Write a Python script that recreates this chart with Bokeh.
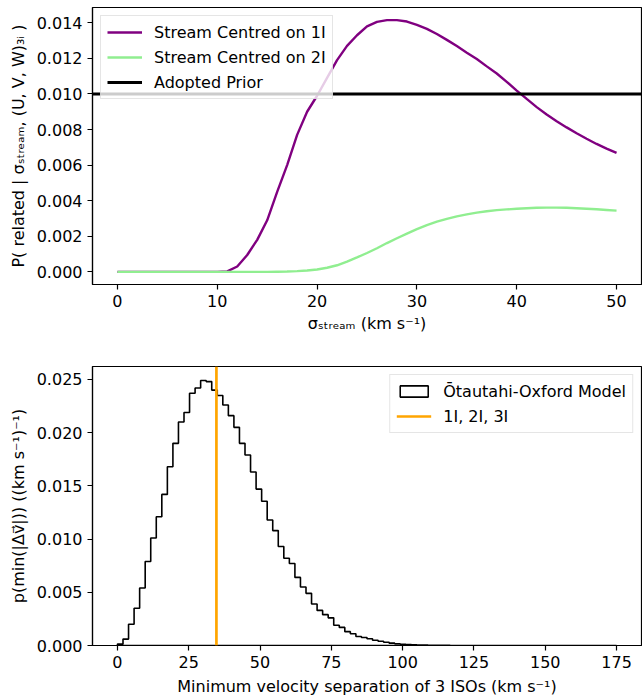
import numpy as np
from bokeh.plotting import figure
from bokeh.layouts import column
from bokeh.models import (Range1d, FixedTicker, PrintfTickFormatter, Span, Legend, LegendItem)
from bokeh.embed import file_html
from bokeh.resources import INLINE

# ---------------- data ----------------
sigma_stream = list(range(0, 51))
p_stream_1I = [0, 0, 0, 0, 0, 0, 0, 0, 0, 0, 0,
               0.00003, 0.0003, 0.00095, 0.0018, 0.0029, 0.0045, 0.0060, 0.0077, 0.0090, 0.0099,
               0.0109, 0.0119, 0.0127, 0.0133, 0.0138, 0.01405, 0.01415, 0.01415, 0.01407, 0.01388,
               0.01366, 0.01337, 0.01304, 0.01269, 0.01232, 0.01196, 0.01155, 0.01115, 0.01068, 0.01019,
               0.00972, 0.00926, 0.00885, 0.00847, 0.00812, 0.00779, 0.00748, 0.00719, 0.00693, 0.00669]
p_stream_2I = [0, 0, 0, 0, 0, 0, 0, 0, 0, 0, 0,
               0, 0, 0, 0, 0, 0.00001, 0.00002, 0.00004, 0.00008, 0.00013,
               0.00023, 0.00037, 0.00057, 0.00081, 0.00106, 0.00133, 0.00162, 0.00189, 0.00215, 0.00240,
               0.00263, 0.00282, 0.00298, 0.00312, 0.00323, 0.00333, 0.00341, 0.00347, 0.00351, 0.00355,
               0.00358, 0.00360, 0.00361, 0.00361, 0.00360, 0.00358, 0.00355, 0.00352, 0.00348, 0.00344]
adopted_prior = 0.010

hist_lo, hist_hi, hist_nbins = 0.0, 175.0, 90
hist_density = [0.00013, 0.0006, 0.0020, 0.0035, 0.0054, 0.0079, 0.0101, 0.0121, 0.0142, 0.0168,
                0.0190, 0.0210, 0.0219, 0.0237, 0.0242, 0.0249, 0.0248, 0.0240, 0.0235, 0.0226,
                0.0216, 0.0205, 0.0190, 0.0179, 0.0163, 0.0147, 0.01355, 0.0118, 0.0108, 0.0093,
                0.0082, 0.0077, 0.0064, 0.0055, 0.0049, 0.0039, 0.0033, 0.0029, 0.0026, 0.0019,
                0.0017, 0.0013, 0.0011, 0.00085, 0.00075, 0.00063, 0.0005, 0.0004, 0.0003, 0.00022,
                0.00016, 0.00012, 0.00009, 0.00007, 0.00005, 0.00004, 0.00003, 0.00002, 0.00001, 0.00001,
                0, 0, 0, 0, 0, 0, 0, 0, 0, 0,
                0, 0, 0, 0, 0, 0, 0, 0, 0, 0,
                0, 0, 0, 0, 0, 0, 0, 0, 0, 0]
observed_separation = 34.7

top_xticks = [0, 10, 20, 30, 40, 50]
top_yticks = [0.000, 0.002, 0.004, 0.006, 0.008, 0.010, 0.012, 0.014]
bot_xticks = [0, 25, 50, 75, 100, 125, 150, 175]
bot_yticks = [0.000, 0.005, 0.010, 0.015, 0.020, 0.025]

# ---------------- styling ----------------
FONT = "DejaVu Sans"
FS = "16px"
FRAME_W = 549
LEFT = 92


def style(p):
    p.outline_line_color = "black"
    p.outline_line_width = 1.2
    p.outline_line_alpha = 1.0
    p.grid.visible = False
    p.background_fill_color = "white"
    p.border_fill_color = "white"
    for ax in p.axis:
        ax.axis_line_color = "black"
        ax.axis_line_width = 1.2
        ax.major_tick_line_color = "black"
        ax.major_tick_line_width = 1.2
        ax.major_tick_out = 5
        ax.major_tick_in = 0
        ax.minor_tick_line_color = None
        ax.major_label_text_font = FONT
        ax.major_label_text_font_size = FS
        ax.major_label_text_color = "black"
        ax.major_label_standoff = 5
        ax.axis_label_text_font = FONT
        ax.axis_label_text_font_size = FS
        ax.axis_label_text_font_style = "normal"
        ax.axis_label_text_color = "black"
        ax.axis_label_standoff = 6


def style_legend(leg, glyph_h=20):
    leg.label_text_font = FONT
    leg.label_text_font_size = FS
    leg.label_text_color = "black"
    leg.glyph_width = 35
    leg.glyph_height = glyph_h
    leg.label_height = 20
    leg.spacing = 5
    leg.padding = 6
    leg.margin = 8
    leg.label_standoff = 12
    leg.border_line_color = "#cccccc"
    leg.border_line_width = 1
    leg.background_fill_color = "white"
    leg.background_fill_alpha = 0.8


# ---------------- top panel ----------------
x1 = Range1d(-2.5, 52.5)
y1 = Range1d(-0.00071, 0.01486)
p1 = figure(frame_width=FRAME_W, frame_height=277, x_range=x1, y_range=y1,
            output_backend="svg", toolbar_location=None,
            min_border_left=LEFT, min_border_right=1, min_border_top=7, min_border_bottom=50)
style(p1)
p1.xaxis.axis_label_standoff = 4
r1 = p1.line(sigma_stream, p_stream_1I, line_color="#800080", line_width=2.4)
r2 = p1.line(sigma_stream, p_stream_2I, line_color="#90EE90", line_width=2.4)
p1.add_layout(Span(location=adopted_prior, dimension="width", line_color="black", line_width=3))
r3 = p1.line([sigma_stream[0]], [adopted_prior], line_color="black", line_width=3)
p1.xaxis.ticker = FixedTicker(ticks=top_xticks)
p1.yaxis.ticker = FixedTicker(ticks=top_yticks)
p1.yaxis.formatter = PrintfTickFormatter(format="%.3f")
p1.xaxis.axis_label = "σₛₜᵣₑₐₘ (km s⁻¹)"
p1.yaxis.axis_label = "P( related | σₛₜᵣₑₐₘ, (U, V, W)₃ᵢ )"
leg1 = Legend(items=[LegendItem(label="Stream Centred on 1I", renderers=[r1]),
                     LegendItem(label="Stream Centred on 2I", renderers=[r2]),
                     LegendItem(label="Adopted Prior", renderers=[r3])],
              location="top_left")
style_legend(leg1)
p1.add_layout(leg1)

# ---------------- bottom panel ----------------
x2 = Range1d(-8.75, 183.75)
y2 = Range1d(0, 0.02622)
p2 = figure(frame_width=FRAME_W, frame_height=279, x_range=x2, y_range=y2,
            output_backend="svg", toolbar_location=None,
            min_border_left=LEFT, min_border_right=1, min_border_top=31, min_border_bottom=50)
style(p2)
edges = np.linspace(hist_lo, hist_hi, hist_nbins + 1)
hx = np.repeat(edges, 2)
hy = np.concatenate([[0.0], np.repeat(hist_density, 2), [0.0]])
rh = p2.patch(hx, hy, fill_color=None, line_color="black", line_width=1.6)
p2.add_layout(Span(location=observed_separation, dimension="height",
                   line_color="#FFA500", line_width=2.7))
ro = p2.line([observed_separation], [0.0], line_color="#FFA500", line_width=2.7)
p2.xaxis.ticker = FixedTicker(ticks=bot_xticks)
p2.yaxis.ticker = FixedTicker(ticks=bot_yticks)
p2.yaxis.formatter = PrintfTickFormatter(format="%.3f")
p2.xaxis.axis_label = "Minimum velocity separation of 3 ISOs (km s⁻¹)"
p2.yaxis.axis_label = "p(min(|Δv⃗|)) ((km s⁻¹)⁻¹)"
leg2 = Legend(items=[LegendItem(label="Ōtautahi-Oxford Model", renderers=[rh]),
                     LegendItem(label="1I, 2I, 3I", renderers=[ro])],
              location="top_right")
style_legend(leg2, glyph_h=14)
p2.add_layout(leg2)

layout = column(p1, p2, spacing=0)
open("out.html", "w").write(file_html(layout, INLINE))
